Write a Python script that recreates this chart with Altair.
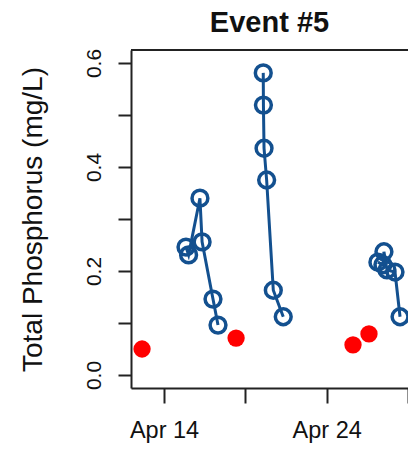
import altair as alt
import pandas as pd

# Grab samples (filled red)
grab_times = ["2013-04-12 15:35", "2013-04-18 10:20", "2013-04-25 14:50", "2013-04-26 14:25"]
grab_tp = [0.050, 0.071, 0.058, 0.079]

# Storm-event samples (open blue circles joined by lines, one line per event)
storm_times = [
    "2013-04-15 08:25", "2013-04-15 12:15", "2013-04-16 05:00",
    "2013-04-16 08:10", "2013-04-17 00:15", "2013-04-17 07:40",
    "2013-04-20 02:25", "2013-04-20 02:40", "2013-04-20 03:35",
    "2013-04-20 07:25", "2013-04-20 17:15", "2013-04-21 07:55",
    "2013-04-27 03:35", "2013-04-27 11:00", "2013-04-27 12:30",
    "2013-04-27 17:00", "2013-04-28 04:50", "2013-04-28 12:15",
]
storm_tp = [
    0.246, 0.231, 0.340, 0.256, 0.146, 0.096,
    0.581, 0.519, 0.436, 0.375, 0.163, 0.112,
    0.217, 0.212, 0.237, 0.202, 0.198, 0.112,
]
storm_event = [1] * 6 + [2] * 6 + [3] * 6

# Axis ticks
x_tick_days = [14, 19, 24, 29]
y_tick_values = [0.0, 0.1, 0.2, 0.3, 0.4, 0.5, 0.6]


def april_day(times):
    ts = pd.to_datetime(pd.Series(times))
    return ts.dt.day + ts.dt.hour / 24 + ts.dt.minute / 1440


grab = pd.DataFrame({"day": april_day(grab_times), "tp": grab_tp})
storm = pd.DataFrame({"day": april_day(storm_times), "tp": storm_tp, "event": storm_event})

FONT = "Liberation Sans"
BLUE = "#13508F"
RED = "#FF0000"
W, H = 277, 338

x_scale = alt.Scale(domain=[11.97, 29.0], nice=False, zero=False)
y_scale = alt.Scale(domain=[-0.025, 0.625], nice=False, zero=False)

x_axis = alt.Axis(
    values=x_tick_days,
    labelExpr="(datum.value == 14 || datum.value == 24) ? 'Apr ' + datum.value : ''",
    title=None, grid=False, tickSize=15, tickWidth=2, tickColor="#222",
    domainWidth=2, domainColor="#222", labelFontSize=23.5, labelFont=FONT,
    labelColor="#111", labelPadding=15,
)
y_axis = alt.Axis(
    values=y_tick_values,
    labelExpr="(round(datum.value * 10) % 2 == 0) ? format(datum.value, '.1f') : ''",
    title="Total Phosphorus (mg/L)", titleFontSize=28, titleFontWeight="normal",
    titleFont=FONT, titleColor="#111", titlePadding=36,
    grid=False, tickSize=13, tickWidth=2, tickColor="#222",
    domainWidth=2, domainColor="#222", labelFontSize=21, labelFont=FONT,
    labelColor="#111", labelAngle=270, labelPadding=14,
)

x_enc = alt.X("day:Q", scale=x_scale, axis=x_axis)
y_enc = alt.Y("tp:Q", scale=y_scale, axis=y_axis)

lines = alt.Chart(storm).mark_line(color=BLUE, strokeWidth=3, clip=True).encode(
    x=x_enc, y=y_enc, detail="event:N", order="day:Q"
)
circles = alt.Chart(storm).mark_point(
    shape="circle", filled=False, size=250, strokeWidth=3.5, color=BLUE, opacity=1, clip=True
).encode(x=x_enc, y=y_enc)
dots = alt.Chart(grab).mark_point(
    shape="circle", filled=True, size=300, color=RED, opacity=1, clip=True
).encode(x=x_enc, y=y_enc)

# top edge of the plot frame
top_edge = alt.Chart(grab).mark_rule(color="#222", strokeWidth=2).encode(
    y=alt.value(0), x=alt.value(0), x2=alt.value(W)
)

chart = (
    alt.layer(lines, circles, dots, top_edge)
    .properties(
        width=W, height=H,
        title=alt.TitleParams(
            "Event #5", fontSize=29, fontWeight="bold", font=FONT, color="#111",
            anchor="middle", baseline="alphabetic", offset=18, dy=31,
        ),
        autosize=alt.AutoSizeParams(type="none"),
        padding={"left": 131, "top": 50, "right": 0, "bottom": 62},
    )
    .configure_view(stroke=None)
    .configure(background="white")
)

chart.save("out.html", embed_options={"renderer": "svg", "actions": False})
